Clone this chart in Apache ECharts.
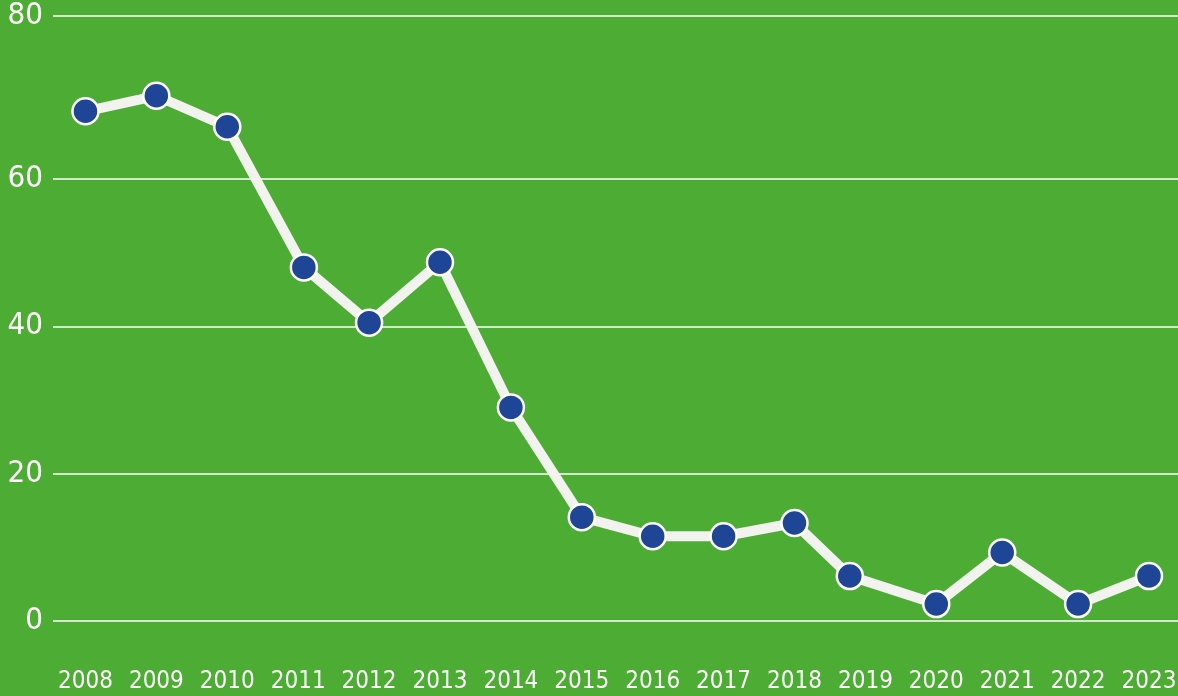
<!DOCTYPE html>
<html>
<head>
<meta charset="utf-8">
<script src="https://cdn.jsdelivr.net/npm/echarts@6/dist/echarts.min.js"></script>
<style>
html,body{margin:0;padding:0;background:#4dac33;}
#c{width:1178px;height:696px;}
</style>
</head>
<body>
<div id="c"></div>
<script>
// Data
const years = [2008, 2009, 2010, 2011, 2012, 2013, 2014, 2015, 2016, 2017, 2018, 2019, 2020, 2021, 2022, 2023];
// measurement positions along the time axis (fractional years, as placed in the picture)
const xPositions = [2008, 2009, 2010, 2011.08, 2012, 2013, 2014, 2015, 2016, 2017, 2018, 2018.78, 2020, 2020.93, 2022, 2023];
const values = [69.2, 71.3, 67.1, 48.0, 40.5, 48.7, 29.0, 14.1, 11.5, 11.5, 13.3, 6.1, 2.3, 9.3, 2.3, 6.1];
const yTickLabels = ['0', '20', '40', '60', '80'];

const Y_MAX = 82.2;
const yTickValues = [0, 20, 40, 60, Y_MAX];

const chart = echarts.init(document.getElementById('c'), null, {renderer: 'canvas'});
const font = '"DejaVu Sans Condensed", "DejaVu Sans", sans-serif';

chart.setOption({
  backgroundColor: '#4dac33',
  animation: false,
  grid: {left: 53, right: 0, top: 15.5, bottom: 75, containLabel: false, outerBoundsMode: 'none'},
  xAxis: {
    type: 'value',
    min: 2007.542,
    max: 2023.409,
    axisLine: {show: false},
    axisTick: {show: false, customValues: years},
    splitLine: {show: false},
    axisLabel: {
      customValues: years,
      color: '#ffffff',
      fontFamily: font,
      fontSize: 24,
      margin: 49,
      formatter: v => String(Math.round(v))
    }
  },
  yAxis: {
    type: 'value',
    min: 0,
    max: Y_MAX,
    axisLine: {show: false},
    axisTick: {show: false, customValues: yTickValues},
    splitLine: {show: true, lineStyle: {color: '#ffffff', width: 1.5}},
    axisLabel: {
      customValues: yTickValues,
      color: '#ffffff',
      fontFamily: font,
      fontSize: 31,
      margin: 10,
      padding: [5, 0, 0, 0],
      formatter: v => yTickLabels[yTickValues.indexOf(v)] ?? ''
    }
  },
  series: [{
    type: 'line',
    data: xPositions.map((x, i) => [x, values[i]]),
    symbol: 'circle',
    symbolSize: 26,
    lineStyle: {color: '#f2f2ee', width: 10},
    itemStyle: {color: '#1f4596', borderColor: '#ffffff', borderWidth: 2.5},
    z: 3
  }]
});
</script>
</body>
</html>
